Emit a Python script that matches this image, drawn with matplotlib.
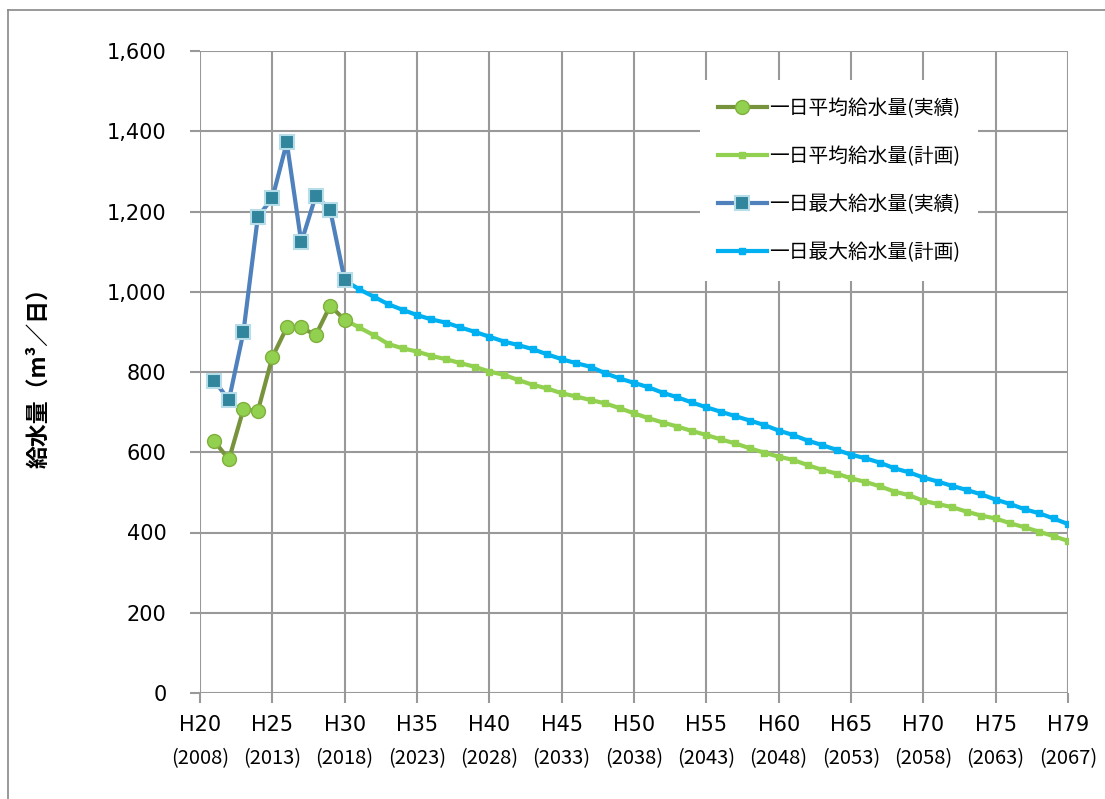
import numpy as np
import matplotlib.pyplot as plt
from matplotlib.lines import Line2D
from matplotlib.ticker import FuncFormatter
import matplotlib.transforms as mtransforms

# 年度（H20 を 0 とした位置）
tick_pos = [0, 5, 10, 15, 20, 25, 30, 35, 40, 45, 50, 55, 60]
tick_h = ["H20", "H25", "H30", "H35", "H40", "H45", "H50", "H55", "H60",
          "H65", "H70", "H75", "H79"]
tick_year = ["(2008)", "(2013)", "(2018)", "(2023)", "(2028)", "(2033)", "(2038)",
             "(2043)", "(2048)", "(2053)", "(2058)", "(2063)", "(2067)"]

# 実績 H21〜H30
x_actual = list(range(1, 11))
avg_actual = [627, 582, 707, 703, 837, 911, 911, 892, 965, 930]
max_actual = [778, 730, 899, 1187, 1233, 1372, 1123, 1239, 1204, 1029]

# 計画 H30〜H79
x_plan = list(range(10, 61))
avg_plan = [930, 911, 892, 870, 859, 851, 840, 832, 822, 813,
            801, 793, 780, 768, 759, 747, 739, 730, 722, 710,
            697, 685, 674, 664, 653, 643, 632, 622, 610, 599,
            589, 581, 568, 556, 547, 535, 526, 515, 502, 493,
            479, 471, 463, 452, 442, 435, 423, 413, 402, 391, 379]
max_plan = [1029, 1006, 988, 969, 955, 942, 931, 923, 911, 900,
            888, 876, 867, 857, 844, 832, 822, 813, 797, 784,
            773, 762, 748, 737, 724, 712, 701, 690, 679, 668,
            654, 643, 629, 618, 606, 594, 585, 574, 560, 550,
            537, 527, 516, 506, 495, 482, 471, 458, 448, 435, 421]

labels = ["一日平均給水量(実績)", "一日平均給水量(計画)",
          "一日最大給水量(実績)", "一日最大給水量(計画)"]

jp = ["Noto Sans CJK JP", "DejaVu Sans"]

fig = plt.figure(figsize=(11.05, 7.99), dpi=100)
ax = fig.add_axes([200 / 1105, 1 - 693 / 799, 868 / 1105, 642 / 799])

ax.plot(x_plan, avg_plan, color="#92D050", lw=3, marker="s", ms=4.5,
        label=labels[1], zorder=3)
ax.plot(x_plan, max_plan, color="#00B0F0", lw=3, marker="s", ms=4.5,
        label=labels[3], zorder=3)
ax.plot(x_actual, avg_actual, color="#77933C", lw=3, marker="o", ms=10,
        mfc="#92D050", mec="#7FAF3C", mew=1, label=labels[0], zorder=4)
ax.plot(x_actual, max_actual, color="#4F81BD", lw=3, marker="s", ms=9.5,
        mfc="#31859C", mec="#B7DEE8", mew=1.5, label=labels[2], zorder=4)

ax.set_xlim(0, 60)
ax.set_ylim(0, 1600)
ax.set_yticks(range(0, 1601, 200))
ax.yaxis.set_major_formatter(FuncFormatter(lambda v, p: f"{int(v):,}"))
ax.set_xticks(tick_pos)
ax.set_xticklabels(tick_h)

ax.grid(True, color="#999999", lw=1.5)
ax.set_axisbelow(True)
for s in ax.spines.values():
    s.set_visible(False)
ax.tick_params(axis="both", length=7, width=1.5, color="#999999",
               labelsize=15)
ax.tick_params(axis="y", pad=17)
ax.tick_params(axis="x", pad=9)

trans = mtransforms.blended_transform_factory(ax.transData, ax.transAxes)
for p, yr in zip(tick_pos, tick_year):
    ax.text(p, -0.102, yr, transform=trans,
            ha="center", va="center", fontsize=14.5, family=jp)

ax.set_ylabel("給水量（m³／日）", family=jp, fontsize=16.5, fontweight="bold")
ax.yaxis.set_label_coords(-0.172, 0.5)

handles, labs = ax.get_legend_handles_labels()
order = [labs.index(l) for l in labels]
leg = ax.legend([handles[i] for i in order], [labs[i] for i in order],
                loc="upper right", bbox_to_anchor=(0.896, 0.955),
                prop={"family": jp, "size": 14.2}, frameon=True,
                fancybox=False, edgecolor="none", framealpha=1,
                labelspacing=1.38, handlelength=2.5, handletextpad=0.1,
                borderpad=0.9, borderaxespad=0)

# 外枠
fig.add_artist(Line2D([8 / 1105, 8 / 1105], [0, 1 - 10 / 799],
                      transform=fig.transFigure, color="#888888", lw=1.2))
fig.add_artist(Line2D([8 / 1105, 1], [1 - 10 / 799, 1 - 10 / 799],
                      transform=fig.transFigure, color="#888888", lw=1.2))

fig.savefig("out.png", dpi=100)
